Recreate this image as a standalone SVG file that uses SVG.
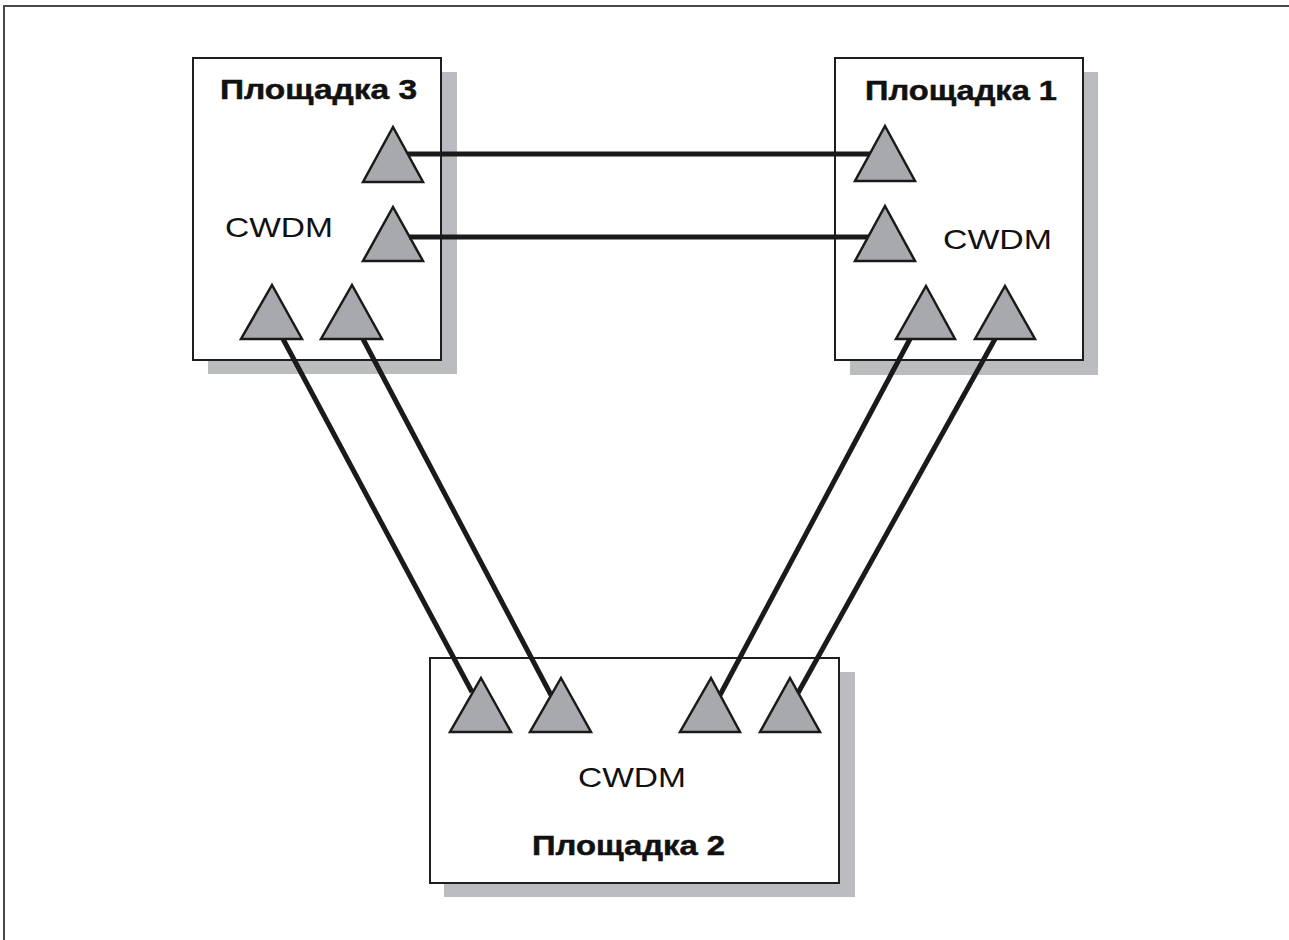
<svg xmlns="http://www.w3.org/2000/svg" width="1289" height="940" viewBox="0 0 1289 940">
  <style>
    .frame { fill: none; stroke: #4a4a4a; stroke-width: 2; }
    .shadow { fill: #bbbcbf; }
    .box { fill: #ffffff; stroke: #1e1e1e; stroke-width: 2; }
    .port { fill: #a8a9ac; stroke: #1a1a1a; stroke-width: 2.5; stroke-linejoin: miter; }
    .title { font-family: "Liberation Sans", Arial, sans-serif; font-weight: bold; font-size: 27px; fill: #111; stroke: #111; stroke-width: 0.5; }
    .label { font-family: "Liberation Sans", Arial, sans-serif; font-size: 28px; fill: #111; }
    .link { stroke: #1a1a1a; stroke-width: 5; fill: none; }
  </style>

  <rect width="1289" height="940" fill="#ffffff"/>
  <rect class="frame" x="4" y="6" width="1290" height="950"/>

  <!-- Site 3 -->
  <g id="site3">
    <rect class="shadow" x="208" y="72" width="249" height="302"/>
    <rect class="box" x="193" y="58" width="248" height="302"/>
    <text class="title" x="220" y="99" textLength="197" lengthAdjust="spacingAndGlyphs">Площадка 3</text>
    <text class="label" x="225" y="237" textLength="108" lengthAdjust="spacingAndGlyphs">CWDM</text>
    <polygon class="port" points="393,127 423,182 363,182"/>
    <polygon class="port" points="393,207 423,261 363,261"/>
    <polygon class="port" points="272,285 302,339 241,339"/>
    <polygon class="port" points="352,285 382,339 321,339"/>
  </g>

  <!-- Site 1 -->
  <g id="site1">
    <rect class="shadow" x="850" y="72" width="248" height="303"/>
    <rect class="box" x="835" y="58" width="248" height="302"/>
    <text class="title" x="865" y="100" textLength="192" lengthAdjust="spacingAndGlyphs">Площадка 1</text>
    <text class="label" x="943" y="249" textLength="109" lengthAdjust="spacingAndGlyphs">CWDM</text>
    <polygon class="port" points="885,126 915,181 855,181"/>
    <polygon class="port" points="885,206 915,261 855,261"/>
    <polygon class="port" points="926,286 955,339 896,339"/>
    <polygon class="port" points="1005,286 1035,339 975,339"/>
  </g>

  <!-- Site 2 -->
  <g id="site2">
    <rect class="shadow" x="444" y="672" width="411" height="225"/>
    <rect class="box" x="430" y="658" width="409" height="225"/>
    <text class="label" x="578" y="787" textLength="108" lengthAdjust="spacingAndGlyphs">CWDM</text>
    <text class="title" x="532" y="855" textLength="193" lengthAdjust="spacingAndGlyphs">Площадка 2</text>
    <polygon class="port" points="481,678 511,732 450,732"/>
    <polygon class="port" points="561,678 591,732 530,732"/>
    <polygon class="port" points="711,678 740,732 680,732"/>
    <polygon class="port" points="790,678 820,732 760,732"/>
  </g>

  <!-- Fibre links between sites -->
  <g id="links">
    <line class="link" x1="408" y1="154" x2="870" y2="154"/>
    <line class="link" x1="409" y1="237" x2="868" y2="237"/>
    <line class="link" x1="283" y1="339" x2="472" y2="692"/>
    <line class="link" x1="363" y1="339" x2="551" y2="695"/>
    <line class="link" x1="720" y1="695" x2="910" y2="339"/>
    <line class="link" x1="798" y1="693" x2="995" y2="339"/>
  </g>
</svg>
